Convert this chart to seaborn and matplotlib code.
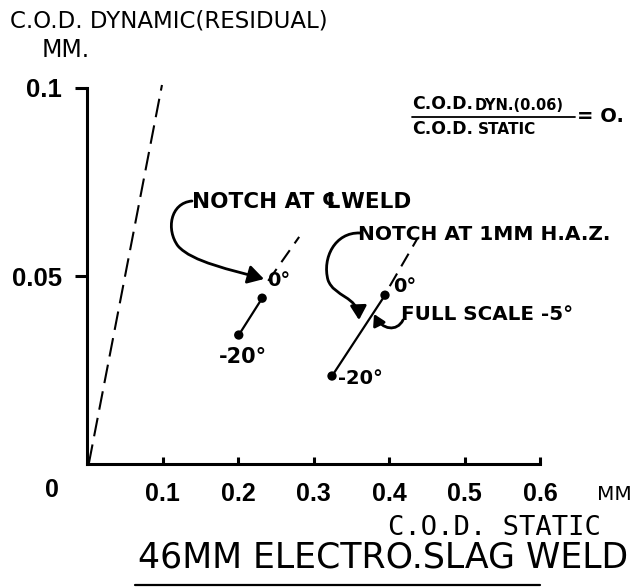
import matplotlib
matplotlib.use("Agg")
import matplotlib.pyplot as plt
import seaborn as sns
from matplotlib.path import Path
from matplotlib.patches import FancyArrowPatch
from matplotlib.lines import Line2D

# C.O.D. values in mm: static on x, dynamic (residual) on y
weld_static = [0.201, 0.232]
weld_dynamic = [0.0343, 0.0441]
weld_ext_static = [0.240, 0.281]
weld_ext_dynamic = [0.0487, 0.0604]

haz_static = [0.3245, 0.3947]
haz_dynamic = [0.0234, 0.0449]
haz_ext_static = [0.401, 0.438]
haz_ext_dynamic = [0.0473, 0.0601]

ratio_static = [0.0026, 0.0993]
ratio_dynamic = [0.0003, 0.1008]

x_ticks = [0.1, 0.2, 0.3, 0.4, 0.5, 0.6]
x_tick_labels = ["0.1", "0.2", "0.3", "0.4", "0.5", "0.6"]
y_ticks = [0.05, 0.1]
y_tick_labels = ["0.05", "0.1"]

W, H = 632, 588
sns.set_theme(style="white")
plt.rcParams["font.family"] = ["DejaVu Sans"]

INK = "black"
HAND = ["DejaVu Sans"]
NUM = ["Liberation Sans", "DejaVu Sans"]


def px(x, y):
    """Pixel position (from top-left) to figure fraction."""
    return (x / W, 1 - y / H)


fig = plt.figure(figsize=(W / 100, H / 100), dpi=100)
fig.patch.set_facecolor("white")
ax = fig.add_axes([87 / W, 1 - 464 / H, (540 - 87) / W, (464 - 88) / H])
ax.set_facecolor("white")
ax.set_xlim(0, 0.6)
ax.set_ylim(0, 0.1)

# ratio line through the origin
sns.lineplot(x=ratio_static, y=ratio_dynamic, ax=ax, color=INK, lw=1.5,
             sort=False, errorbar=None)
ax.lines[-1].set_dashes([9, 4])
ax.lines[-1].set_clip_on(False)

# notch at weld centre line
sns.lineplot(x=weld_static, y=weld_dynamic, ax=ax, color=INK, lw=1.6,
             sort=False, errorbar=None)
sns.lineplot(x=weld_ext_static, y=weld_ext_dynamic, ax=ax, color=INK, lw=1.5,
             sort=False, errorbar=None)
ax.lines[-1].set_dashes([7, 4])
sns.scatterplot(x=weld_static, y=weld_dynamic, ax=ax, color=INK, s=45,
                edgecolor="none", zorder=5)

# notch at 1 mm H.A.Z.
sns.lineplot(x=haz_static, y=haz_dynamic, ax=ax, color=INK, lw=1.6,
             sort=False, errorbar=None)
sns.lineplot(x=haz_ext_static, y=haz_ext_dynamic, ax=ax, color=INK, lw=1.5,
             sort=False, errorbar=None)
ax.lines[-1].set_dashes([7, 4])
sns.scatterplot(x=haz_static, y=haz_dynamic, ax=ax, color=INK, s=45,
                edgecolor="none", zorder=5)

# axes frame
for side in ("top", "right"):
    ax.spines[side].set_visible(False)
for side in ("left", "bottom"):
    ax.spines[side].set_color(INK)
    ax.spines[side].set_linewidth(2.2)

ax.set_xticks(x_ticks, labels=x_tick_labels)
ax.set_yticks(y_ticks, labels=y_tick_labels)
ax.tick_params(axis="x", direction="in", length=5, width=2.2, color=INK,
               pad=13, labelsize=18, labelcolor=INK, bottom=True)
ax.tick_params(axis="y", direction="out", length=9, width=2.2, color=INK,
               pad=9, labelsize=18.5, labelcolor=INK, left=True)
for lab in ax.get_xticklabels() + ax.get_yticklabels():
    lab.set_family(NUM)
    lab.set_weight("bold")
ax.set_xlabel("")
ax.set_ylabel("")

# origin label and units
fig.text(*px(52, 490), "0", family=NUM, weight="bold", fontsize=18,
         ha="center", va="center", color=INK)
fig.text(*px(597, 494), "MM", family=HAND, fontsize=14.5, ha="left",
         va="center", color=INK)

# axis titles
fig.text(*px(10, 21), "C.O.D. DYNAMIC(RESIDUAL)", family=HAND, fontsize=16.5,
         ha="left", va="center", color=INK)
fig.text(*px(42, 50), "MM.", family=HAND, fontsize=17, ha="left",
         va="center", color=INK)
fig.text(*px(494, 528), "C.O.D. STATIC", family=["DejaVu Sans Mono"],
         fontsize=19.5, ha="center", va="center", color=INK)
fig.text(*px(383, 557), "46MM ELECTRO.SLAG WELD", family=HAND, fontsize=25,
         ha="center", va="center", color=INK)
fig.add_artist(Line2D([135 / W, 540 / W], [1 - 585 / H, 1 - 585 / H],
                      color=INK, lw=1.6))

# ratio expression
fig.text(*px(412, 104), "C.O.D.", family=HAND, weight="bold", fontsize=12.5,
         ha="left", va="center", color=INK)
fig.text(*px(475, 105), "DYN.(0.06)", family=HAND, weight="bold",
         fontsize=10.5, ha="left", va="center", color=INK)
fig.add_artist(Line2D([412 / W, 575 / W], [1 - 117 / H, 1 - 117 / H],
                      color=INK, lw=1.3))
fig.text(*px(412, 129), "C.O.D.", family=HAND, weight="bold", fontsize=12.5,
         ha="left", va="center", color=INK)
fig.text(*px(478, 130), "STATIC", family=HAND, weight="bold", fontsize=11,
         ha="left", va="center", color=INK)
fig.text(*px(577, 116), "= O.", family=HAND, weight="bold", fontsize=14,
         ha="left", va="center", color=INK)

# series notes
fig.text(*px(192, 202), "NOTCH AT \u2104WELD", family=HAND, weight="bold",
         fontsize=15.5, ha="left", va="center", color=INK)
fig.text(*px(358, 234), "NOTCH AT 1MM H.A.Z.", family=HAND, weight="bold",
         fontsize=14.5, ha="left", va="center", color=INK)
fig.text(*px(401, 314), "FULL SCALE -5\u00b0", family=HAND, weight="bold",
         fontsize=14.3, ha="left", va="center", color=INK)

# temperature labels
fig.text(*px(267, 280), "0\u00b0", family=HAND, weight="bold", fontsize=14,
         ha="left", va="center", color=INK)
fig.text(*px(393, 286), "0\u00b0", family=HAND, weight="bold", fontsize=14,
         ha="left", va="center", color=INK)
fig.text(*px(219, 357), "-20\u00b0", family=HAND, weight="bold", fontsize=15,
         ha="left", va="center", color=INK)
fig.text(*px(338, 379), "-20\u00b0", family=HAND, weight="bold", fontsize=14,
         ha="left", va="center", color=INK)


def curved_arrow(points, head=14):
    """Cubic Bezier arrow through pixel points (start, c1, c2, end, ...)."""
    verts = [px(*p) for p in points]
    codes = [Path.MOVETO] + [Path.CURVE4] * (len(verts) - 1)
    arrow = FancyArrowPatch(path=Path(verts, codes),
                            arrowstyle="-|>,head_length=0.6,head_width=0.35",
                            mutation_scale=head, lw=2.0, color=INK,
                            transform=fig.transFigure)
    fig.add_artist(arrow)


curved_arrow([(192, 201), (170, 203), (166, 230), (178, 246),
              (192, 262), (232, 270), (264, 279)], head=16)
curved_arrow([(360, 233), (335, 232), (322, 258), (328, 280),
              (334, 297), (358, 296), (359, 320)], head=14)
curved_arrow([(403, 320), (397, 332), (382, 330), (374, 314)], head=11)

fig.savefig("out.png", dpi=100, facecolor="white")
